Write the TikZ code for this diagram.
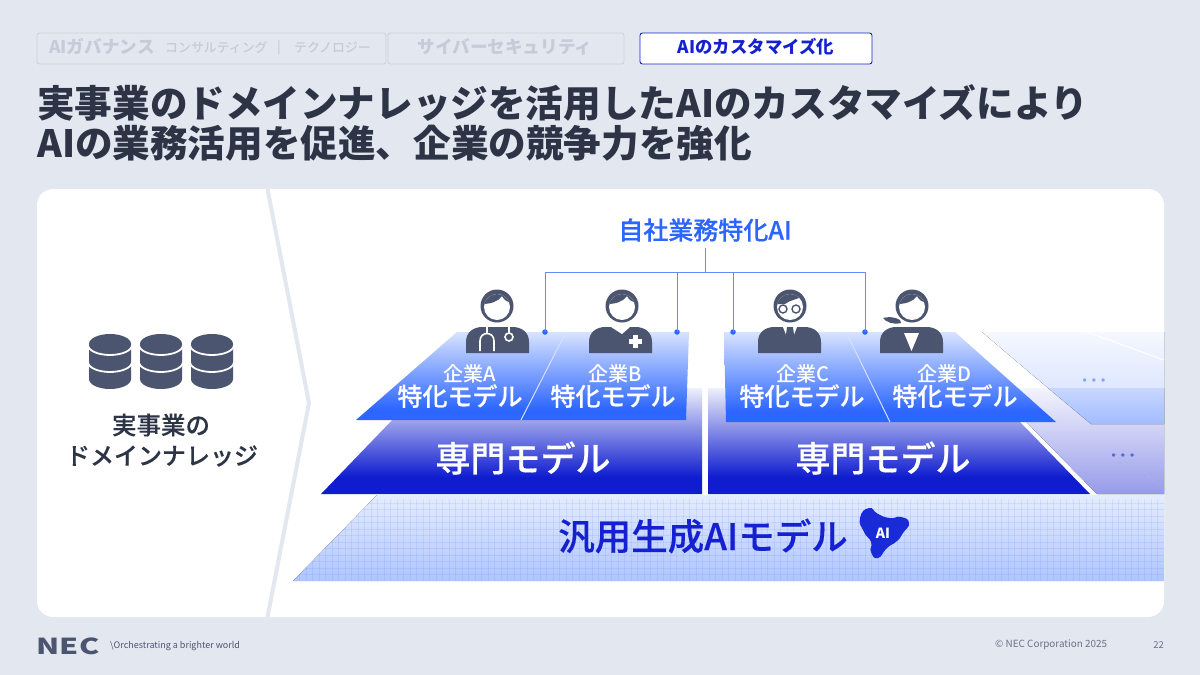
\documentclass[tikz,border=0pt]{standalone}
\usepackage{fontspec}
\setmainfont{Noto Sans CJK JP}
\newfontfamily\medfont[FakeBold=0.35]{Noto Sans CJK JP Medium}
\newfontfamily\plainmed{Noto Sans CJK JP Medium}
\newfontfamily\latinfont{Liberation Sans}
\usetikzlibrary{calc}
\definecolor{bgc}{HTML}{E3E7F0}
\definecolor{ink}{HTML}{2C3445}
\definecolor{iconc}{HTML}{4C5570}
\definecolor{tabline}{HTML}{CDD2DF}
\definecolor{tabtext}{HTML}{C6CBD9}
\definecolor{navy}{HTML}{1520D0}
\definecolor{brand}{HTML}{2C66FF}
\definecolor{foot}{HTML}{6B7288}
\definecolor{tA}{HTML}{D8E3FF}
\definecolor{tB}{HTML}{2C66FF}
\definecolor{mA}{HTML}{EEF0FB}
\definecolor{mB}{HTML}{0F1DCF}
\pgfdeclareverticalshading{topshade}{100bp}{color(0bp)=(tB); color(31bp)=(tB); color(75bp)=(tA); color(100bp)=(tA)}
\pgfdeclareverticalshading{midshade}{100bp}{color(0bp)=(mB); color(33bp)=(mB); color(75bp)=(mA); color(100bp)=(mA)}
\newcommand{\fs}[1]{\fontsize{#1}{#1}\selectfont}
\tikzset{
  tabbox/.style={draw=tabline,line width=0.9pt,rounded corners=2.5pt},
  tabtxt/.style={text=tabtext,font=\fs{17.6}\bfseries,inner sep=0pt},
  tabsmall/.style={text=tabtext,font=\fs{12.9}\plainmed,inner sep=0pt},
  title/.style={text=ink,font=\fs{37.6}\bfseries,inner sep=0pt,anchor=west},
  firm/.style={text=white,font=\fs{20}\plainmed,inner sep=0pt},
  special/.style={text=white,font=\fs{25}\medfont,inner sep=0pt},
  expert/.style={text=white,font=\fs{35}\medfont,inner sep=0pt},
  bracket/.style={draw=brand!75!white,line width=0.9pt},
  dotend/.style={circle,fill=brand,inner sep=0pt,minimum size=5.5pt},
  moredots/.style={inner sep=0pt,font=\fs{12}\latinfont},
  footer/.style={text=foot,font=\fs{9},inner sep=0pt},
}
\newcommand{\headbase}[1]{%
  \fill[iconc] (#1,306) circle (16.5);
}
\newcommand{\bodyshape}[1]{%
  \fill[iconc,rounded corners=0pt] (#1-31.5,353) -- (#1-31.5,342) .. controls (#1-31.5,332) and (#1-24,327) .. (#1-15,327) -- (#1+15,327) .. controls (#1+24,327) and (#1+31.5,332) .. (#1+31.5,342) -- (#1+31.5,353) -- cycle;
}
\newcommand{\faceshape}[1]{%
  \begin{scope}
    \clip (#1,307) circle (13);
    \fill[white] (#1-14,292) rectangle (#1+14,322);
    \fill[iconc] (#1-15,290) -- (#1-15,304) .. controls (#1-7,304) and (#1+1,302) .. (#1+5,296) .. controls (#1+7,300) and (#1+10,302) .. (#1+15,303) -- (#1+15,290) -- cycle;
  \end{scope}
}
\newcommand{\dbcyl}[1]{%
  \fill[iconc] (#1-21,344) -- (#1-21,379) arc[start angle=180,end angle=360,x radius=21,y radius=-10] -- (#1+21,344) arc[start angle=0,end angle=180,x radius=21,y radius=-10] -- cycle;
  \draw[white,line width=1.8pt] (#1-22,345) arc[start angle=180,end angle=360,x radius=22,y radius=-10];
  \draw[white,line width=1.8pt] (#1-22,362) arc[start angle=180,end angle=360,x radius=22,y radius=-10];
}
\begin{document}
\begin{tikzpicture}[x=1pt,y=-1pt]
\useasboundingbox (0,0) rectangle (1200,675);
\fill[bgc] (0,0) rectangle (1200,675);

% tabs
\draw[tabbox] (37,33) rectangle (386,64);
\draw[tabbox] (388,33) rectangle (624,64);
\draw[draw=navy,fill=white,line width=0.9pt,rounded corners=2.5pt] (640,33) rectangle (872,64);
\node[tabtxt,anchor=west] (t1) at (49,47) {AIガバナンス};
\node[tabsmall,anchor=west] (t2) at (165,48) {コンサルティング};
\node[tabsmall,anchor=center] (t3) at (279,47.5) {|};
\node[tabsmall,anchor=west] (t4) at (294,48) {テクノロジー};
\node[tabtxt] (t5) at (505,47) {サイバーセキュリティ};
\node[inner sep=0pt,text=navy,font=\fs{17.4}\bfseries] (t6) at (756,47) {AIのカスタマイズ化};

% title
\node[title] (h1) at (37,103) {実事業のドメインナレッジを活用したAIのカスタマイズにより};
\node[title] (h2) at (37,143) {AIの業務活用を促進、企業の競争力を強化};

% card
\fill[white,rounded corners=16pt] (37,189) rectangle (1164,617);
\draw[bgc,line width=4pt] (267.5,189) -- (309,403) -- (267.5,617);

% left
\dbcyl{110}\dbcyl{161}\dbcyl{212}
\node[inner sep=0pt,text=ink,font=\fs{24.5}\medfont] (k1) at (161,425) {実事業の};
\node[inner sep=0pt,text=ink,font=\fs{24}\medfont] (k2) at (162,456) {ドメインナレッジ};

% base layer
\begin{scope}
  \clip (293,581) -- (377,495) -- (1164,495) -- (1164,581) -- cycle;
  \fill[top color=white!88!brand,bottom color=brand!38!white] (280,495) rectangle (1164,581);
  \foreach \gx in {0,1,...,135}{\draw[brand,opacity=.1,line width=0.7pt] (293+6.5*\gx,499) -- (293+6.5*\gx,581);}
  \foreach \gy in {0,1,...,12}{\draw[brand,opacity=.1,line width=0.7pt] (280,503+6.5*\gy) -- (1164,503+6.5*\gy);}
\end{scope}

% middle layers
\shade[shading=midshade] (321,494) -- (423,388) -- (702,388) -- (702,494) -- cycle;
\shade[shading=midshade] (708,494) -- (708,388) -- (987,388) -- (1090,494) -- cycle;
\fill[top color=white!95!navy,bottom color=navy!45!white] (993,388) -- (1097,494) -- (1164,494) -- (1164,388) -- cycle;
\draw[navy!30!white,densely dotted,line width=0.4pt] (1072,467) -- (1140,467) -- (1164,490);

% right pale top layer
\fill[top color=tA!25!white,bottom color=tA!85!white] (982,332) -- (1048,388) -- (1164,388) -- (1164,332) -- cycle;
\fill[top color=brand!26!white,bottom color=brand!44!white] (1048,388) -- (1091,424) -- (1164,424) -- (1164,388) -- cycle;
\draw[white,line width=1pt] (1087,332) -- (1164,360);

% top layers
\shade[shading=topshade] (457,332) -- (689,332) -- (686,420) -- (356,420) -- cycle;
\shade[shading=topshade] (724,332) -- (955,332) -- (1056,422) -- (726,422) -- cycle;
\draw[white!80!brand,line width=1pt] (566,332) -- (521,420);
\draw[white!80!brand,line width=1pt] (846,332) -- (890,422);

% model labels
\node[firm] (fa) at (470,374) {企業A};
\node[special] (sa) at (460,396) {特化モデル};
\node[firm] (fb) at (615,374) {企業B};
\node[special] (sb) at (613,396) {特化モデル};
\node[firm] (fc) at (803,374) {企業C};
\node[special] (sc) at (802,396) {特化モデル};
\node[firm] (fd) at (944,374) {企業D};
\node[special] (sd) at (955,396) {特化モデル};
\node[expert] (e1) at (523,458) {専門モデル};
\node[expert] (e2) at (883,458) {専門モデル};
\node[moredots,text=brand!60!white] (m1) at (1094,382) {•\hspace{5pt}•\hspace{5pt}•};
\node[moredots,text=navy!70!white] (m2) at (1123,457) {•\hspace{5pt}•\hspace{5pt}•};
\node[inner sep=0pt,text=navy,font=\fs{36.5}\medfont] (g) at (703,536) {汎用生成AIモデル};

% AI blob
\fill[navy!85!brand] plot[smooth cycle,tension=1] coordinates {(869,508) (878,514) (890,518) (901,517) (909,523) (903,533) (897,541) (887,548) (878,558) (871,552) (871,542) (864,532) (860,518)};
\node[inner sep=0pt,text=white,font=\fs{14}\bfseries] (ai) at (883,533) {AI};

% persons
\headbase{497}\faceshape{497}\bodyshape{497.5}
\draw[white,line width=1.6pt] (480,351) -- (480,341) .. controls (480,331) and (494,331) .. (494,341) -- (494,351);
\draw[white,line width=1.6pt] (487,326) -- (487,333);
\draw[white,line width=1.6pt] (509,326) -- (509,333);
\draw[white,line width=1.6pt] (509,337) circle (4);

\headbase{622}\faceshape{622}\bodyshape{620.5}
\fill[white] (611,327) -- (622,334) -- (630,327) -- cycle;
\fill[white] (629,339) rectangle (642,343.5);
\fill[white] (633.3,334.5) rectangle (637.8,348);

\headbase{790}
\begin{scope}
  \clip (790,307) circle (13);
  \fill[white] (776,292) rectangle (804,322);
  \fill[iconc] (776,290) -- (776,304) -- (785,304) .. controls (790,300) and (798,299) .. (804,296) -- (804,290) -- cycle;
\end{scope}
\draw[iconc,line width=1.4pt] (783,309) circle (4) (796,309) circle (4);
\bodyshape{789.5}
\fill[white] (783,327) -- (797,327) -- (790,345) -- cycle;
\fill[iconc] (787,327) -- (793,327) -- (795,342) -- (790,349) -- (785,342) -- cycle;

\headbase{912}\faceshape{912}\bodyshape{911.5}
\fill[iconc] (900,320) .. controls (893,316) and (887,317) .. (883,318) .. controls (886,322) and (893,325) .. (901,323) -- cycle;
\fill[white] (904,333) -- (919,333) -- (911.5,351) -- cycle;

% connectors
\node[inner sep=0pt,text=brand,font=\fs{25}\medfont] (own) at (705,230) {自社業務特化AI};
\coordinate (hub) at (705,272);
\node[dotend] (da) at (545,332) {};
\node[dotend] (db) at (677,332) {};
\node[dotend] (dc) at (733,332) {};
\node[dotend] (dd) at (865,332) {};
\draw[bracket] (own.south |- 0,248) -- (hub);
\draw[bracket] (da.center) -- (da.center |- hub) -- (dd.center |- hub) -- (dd.center);
\draw[bracket] (db.center) -- (db.center |- hub);
\draw[bracket] (dc.center) -- (dc.center |- hub);

% footer
\node[inner sep=0pt,anchor=west,text=iconc] (nec) at (36.5,646) {\scalebox{1.38}[1]{\fs{22}\bfseries NEC}};
\node[inner sep=0pt,anchor=west,text=iconc,font=\fs{9}] (tag) at (110,646) {\textbackslash Orchestrating a brighter world};
\node[footer,anchor=west,font=\fs{9.9}] (copy) at (995,645) {© NEC Corporation 2025};
\node[footer,anchor=east,font=\fs{9.5}] (pg) at (1164,645) {22};
\end{tikzpicture}
\end{document}
